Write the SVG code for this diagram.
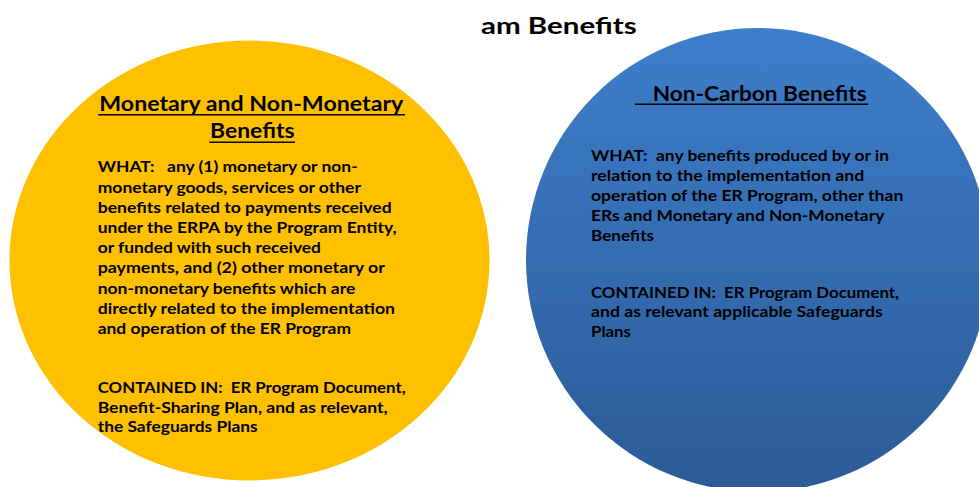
<svg xmlns="http://www.w3.org/2000/svg" width="979" height="487" viewBox="0 0 979 487">
  <style>
    text { font-family: Lato, "Liberation Sans", sans-serif; font-weight: bold; fill: #000; white-space: pre; }
    .title { font-size: 23px; }
    .head { font-size: 20px; }
    .body { font-size: 15px; }
    .ul { stroke: #000; stroke-width: 1.6; }
  </style>
  <defs>
    <linearGradient id="blueGrad" x1="0" y1="0" x2="0" y2="1">
      <stop offset="0" stop-color="#3D7ECB"/>
      <stop offset="1" stop-color="#2C5B97"/>
    </linearGradient>
  </defs>
  <rect x="0" y="0" width="979" height="487" fill="#FFFFFF"/>

  <g id="title">
    <text class="title" x="481" y="34.3" textLength="155.7" lengthAdjust="spacingAndGlyphs">am Benefits</text>
  </g>

  <g id="node-monetary">
    <ellipse cx="249.5" cy="260.5" rx="240" ry="220" fill="#FFC000"/>
    <text class="head" x="99.3" y="111" textLength="304" lengthAdjust="spacingAndGlyphs">Monetary and Non-Monetary</text>
    <line class="ul" x1="98.3" y1="114.8" x2="405" y2="114.8"/>
    <text class="head" x="210" y="138.3" textLength="84.5" lengthAdjust="spacingAndGlyphs">Benefits</text>
    <line class="ul" x1="209.5" y1="142.2" x2="295" y2="142.2"/>
    <text class="body" x="97.7" y="172.3" textLength="260" lengthAdjust="spacingAndGlyphs">WHAT:   any (1) monetary or non-</text>
    <text class="body" x="97.7" y="192.5" textLength="263.3" lengthAdjust="spacingAndGlyphs">monetary goods, services or other</text>
    <text class="body" x="97.7" y="212.7" textLength="294" lengthAdjust="spacingAndGlyphs">benefits related to payments received</text>
    <text class="body" x="97.7" y="232.9" textLength="299" lengthAdjust="spacingAndGlyphs">under the ERPA by the Program Entity,</text>
    <text class="body" x="97.7" y="253.1" textLength="223.3" lengthAdjust="spacingAndGlyphs">or funded with such received</text>
    <text class="body" x="97.7" y="273.3" textLength="287.3" lengthAdjust="spacingAndGlyphs">payments, and (2) other monetary or</text>
    <text class="body" x="97.7" y="293.5" textLength="257.6" lengthAdjust="spacingAndGlyphs">non-monetary benefits which are</text>
    <text class="body" x="97.7" y="313.7" textLength="297.3" lengthAdjust="spacingAndGlyphs">directly related to the implementation</text>
    <text class="body" x="97.7" y="333.9" textLength="253.3" lengthAdjust="spacingAndGlyphs">and operation of the ER Program</text>
    <text class="body" x="97.7" y="393" textLength="308" lengthAdjust="spacingAndGlyphs">CONTAINED IN:  ER Program Document,</text>
    <text class="body" x="97.7" y="412.5" textLength="290" lengthAdjust="spacingAndGlyphs">Benefit-Sharing Plan, and as relevant,</text>
    <text class="body" x="97.7" y="432" textLength="160" lengthAdjust="spacingAndGlyphs">the Safeguards Plans</text>
  </g>

  <g id="node-noncarbon">
    <circle cx="758" cy="260" r="232" fill="url(#blueGrad)"/>
    <text class="head" x="652.7" y="101" textLength="214" lengthAdjust="spacingAndGlyphs">Non-Carbon Benefits</text>
    <line class="ul" x1="635" y1="104.3" x2="868.3" y2="104.3"/>
    <text class="body" x="591" y="161" textLength="298" lengthAdjust="spacingAndGlyphs">WHAT:  any benefits produced by or in</text>
    <text class="body" x="591" y="181" textLength="273.3" lengthAdjust="spacingAndGlyphs">relation to the implementation and</text>
    <text class="body" x="591" y="201" textLength="312.3" lengthAdjust="spacingAndGlyphs">operation of the ER Program, other than</text>
    <text class="body" x="591" y="221" textLength="293.3" lengthAdjust="spacingAndGlyphs">ERs and Monetary and Non-Monetary</text>
    <text class="body" x="591" y="241" textLength="63" lengthAdjust="spacingAndGlyphs">Benefits</text>
    <text class="body" x="591" y="297.5" textLength="308" lengthAdjust="spacingAndGlyphs">CONTAINED IN:  ER Program Document,</text>
    <text class="body" x="591" y="317" textLength="291.7" lengthAdjust="spacingAndGlyphs">and as relevant applicable Safeguards</text>
    <text class="body" x="591" y="337" textLength="40" lengthAdjust="spacingAndGlyphs">Plans</text>
  </g>

  <g id="connectors"/>
</svg>
